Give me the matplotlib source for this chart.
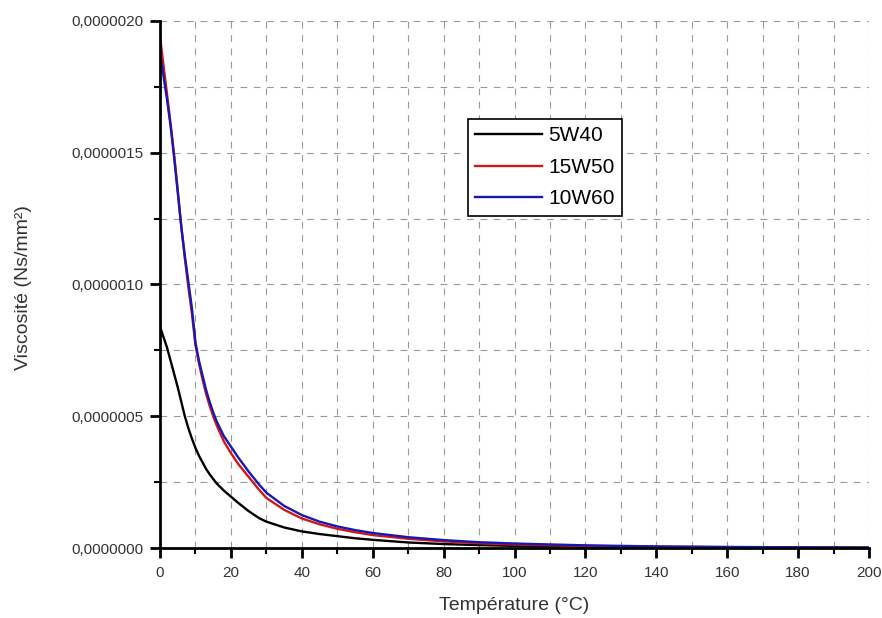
import matplotlib
matplotlib.use("Agg")
import matplotlib.pyplot as plt
from matplotlib.ticker import MultipleLocator, FuncFormatter

# temperature (°C)
temperature = [0, 1, 2, 3, 4, 5, 6, 7, 8, 9, 10, 11, 12, 13, 14, 15, 16, 18, 20, 22, 25,
               28, 30, 35, 40, 45, 50, 55, 60, 70, 80, 90, 100, 120, 140, 160, 180, 200]

# viscosity in units of 1e-6 Ns/mm²
visc_5w40 = [0.84, 0.80, 0.76, 0.71, 0.66, 0.61, 0.555, 0.50, 0.455, 0.415, 0.38, 0.35,
             0.325, 0.30, 0.28, 0.262, 0.245, 0.218, 0.195, 0.172, 0.14, 0.113, 0.10,
             0.078, 0.063, 0.053, 0.045, 0.037, 0.031, 0.021, 0.015, 0.011, 0.008,
             0.005, 0.003, 0.002, 0.0013, 0.001]
visc_15w50 = [1.94, 1.83, 1.72, 1.61, 1.49, 1.36, 1.22, 1.10, 0.99, 0.89, 0.77, 0.70,
              0.64, 0.585, 0.54, 0.50, 0.465, 0.405, 0.36, 0.32, 0.27, 0.22, 0.19,
              0.145, 0.112, 0.09, 0.073, 0.06, 0.049, 0.035, 0.025, 0.018, 0.013,
              0.008, 0.005, 0.003, 0.002, 0.0012]
visc_10w60 = [1.88, 1.79, 1.70, 1.60, 1.48, 1.35, 1.22, 1.11, 1.01, 0.91, 0.78, 0.71,
              0.655, 0.60, 0.555, 0.515, 0.48, 0.425, 0.385, 0.345, 0.29, 0.24, 0.21,
              0.16, 0.125, 0.10, 0.082, 0.068, 0.057, 0.041, 0.030, 0.022, 0.017,
              0.010, 0.006, 0.004, 0.0025, 0.0015]

series = [
    ("5W40", visc_5w40, "black"),
    ("15W50", visc_15w50, "#d01818"),
    ("10W60", visc_10w60, "#1818b0"),
]

plt.rcParams["font.family"] = ["Liberation Sans", "DejaVu Sans"]

fig = plt.figure(figsize=(8.82, 6.18), dpi=100)
ax = fig.add_axes([160 / 882, 1 - 548 / 618, 709 / 882, 527 / 618])

for label, values, color in series:
    ax.plot(temperature, [v * 1e-6 for v in values], color=color, linewidth=1.7, label=label)

ax.set_xlim(0, 200)
ax.set_ylim(0, 2e-6)
ax.xaxis.set_major_locator(MultipleLocator(20))
ax.xaxis.set_minor_locator(MultipleLocator(10))
ax.yaxis.set_major_locator(MultipleLocator(0.5e-6))
ax.yaxis.set_minor_locator(MultipleLocator(0.25e-6))
ax.yaxis.set_major_formatter(FuncFormatter(lambda v, pos: f"{v:.7f}".replace(".", ",")))

ax.grid(which="both", color="#999999", linestyle=(0, (6, 6)), linewidth=0.8)
ax.set_axisbelow(True)

for side in ("top", "right"):
    ax.spines[side].set_visible(False)
for side in ("left", "bottom"):
    ax.spines[side].set_linewidth(2)

ax.tick_params(which="major", direction="out", length=7, width=2, labelsize=11, colors="black")
ax.tick_params(which="minor", direction="out", length=4, width=1.5)
ax.tick_params(axis="x", which="major", pad=6)
ax.tick_params(axis="y", which="major", pad=5)
ax.tick_params(axis="both", labelcolor="#333333")

ax.set_xlabel("Température (°C)", fontsize=14, color="#333333", va="top")
ax.xaxis.set_label_coords(0.5, -0.093)
ax.set_ylabel("Viscosité (Ns/mm²)", fontsize=14, color="#333333")
ax.yaxis.set_label_coords(-0.181, 0.495)

leg = ax.legend(loc="upper left", bbox_to_anchor=(468 / 882, 1 - 119 / 618),
                bbox_transform=fig.transFigure, borderaxespad=0, fontsize=15,
                handlelength=3.2, handletextpad=0.3, labelspacing=0.6, borderpad=0.35,
                fancybox=False, framealpha=1, edgecolor="black")
leg.get_frame().set_linewidth(1.2)

fig.savefig("out.png", dpi=100)
